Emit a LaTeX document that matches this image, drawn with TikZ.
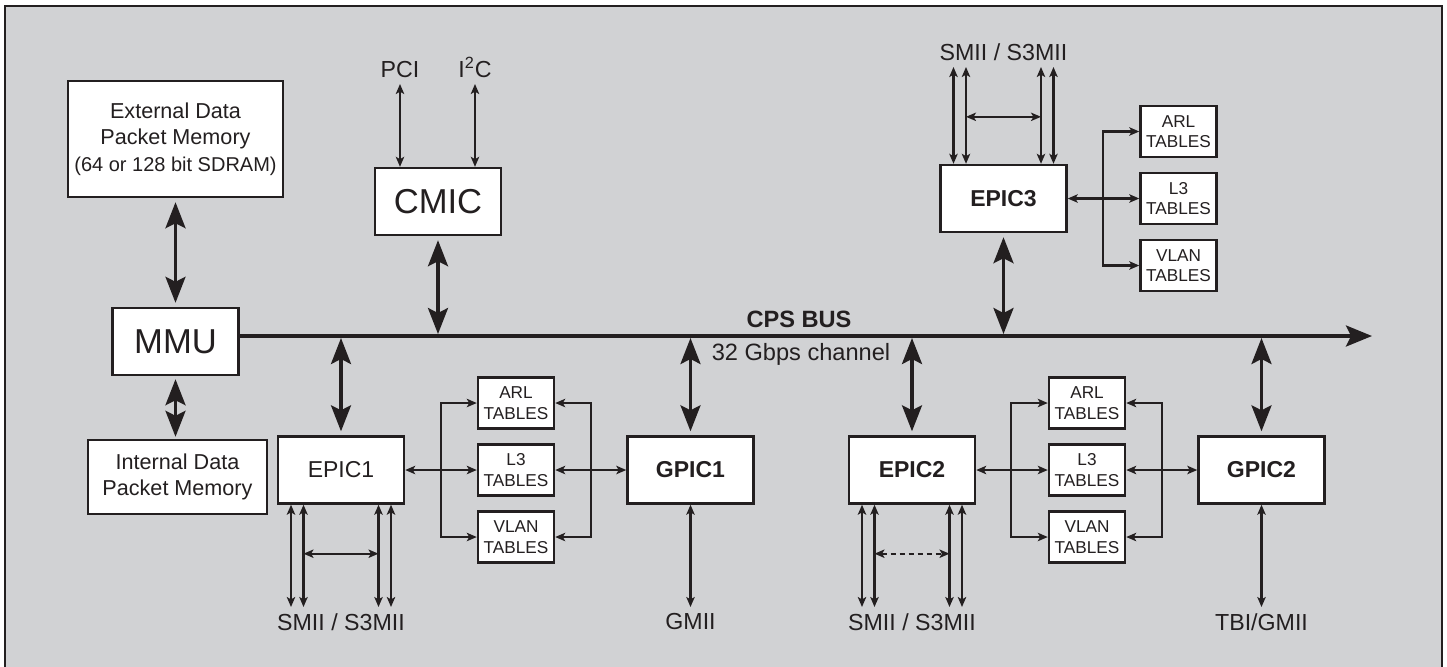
\documentclass[tikz,border=0pt]{standalone}
\usepackage{fontspec}
\setmainfont{Liberation Sans}
\usetikzlibrary{positioning,arrows.meta,calc}

\definecolor{panel}{HTML}{D1D2D4}
\definecolor{ink}{HTML}{231F20}

\tikzset{
  chip/.style={draw=ink,fill=white,line width=1.2pt,minimum width=63pt,minimum height=33.5pt,inner sep=0pt,font=\fontsize{11.5}{13}\selectfont},
  bigchip/.style={chip,font=\fontsize{17.3}{19}\selectfont},
  boldchip/.style={chip,font=\fontsize{11.5}{13}\selectfont\bfseries},
  tbl/.style={draw=ink,fill=white,line width=1.2pt,minimum width=38pt,minimum height=25.5pt,inner sep=0pt,align=center,font=\fontsize{8.6}{10.3}\selectfont},
  mem/.style={draw=ink,fill=white,line width=1.2pt,inner sep=0pt,align=center,font=\fontsize{10.8}{13.25}\selectfont},
  lbl/.style={inner sep=3pt,font=\fontsize{11.6}{13}\selectfont},
  big/.style={draw=ink,line width=1.6pt,{Stealth[length=13pt,width=10pt,inset=2.5pt]}-{Stealth[length=13pt,width=10pt,inset=2.5pt]},shorten <=2pt,shorten >=2pt},
  bus/.style={draw=ink,line width=1.6pt,-{Stealth[length=13pt,width=10.5pt,inset=2.5pt]}},
  lnk/.style={draw=ink,line width=1.1pt},
  cross/.style={draw=ink,line width=0.85pt}
}

\begin{document}
\begin{tikzpicture}[x=0.5pt,y=-0.5pt,node distance=33.5pt,on grid,
    >={Stealth[length=5pt,width=4.2pt,inset=1.2pt]},every node/.style={text=ink}]
  \useasboundingbox (0,0) rectangle (1447,666);
  \fill[panel] (5,6) rectangle (1442,670);
  \draw[ink,line width=1.2pt] (5,672) -- (5,6) -- (1442,6) -- (1442,672);

  % memories, MMU and CMIC
  \node[mem,minimum width=107.5pt,minimum height=58pt] (extmem) at (175.5,139) {External Data\\Packet Memory\\{\fontsize{10}{13.25}\selectfont(64 or 128 bit SDRAM)}};
  \node[bigchip] (mmu) at (175.5,341.5) {MMU};
  \node[mem,minimum width=89.5pt,minimum height=37pt] (intmem) at (177.5,477) {Internal Data\\Packet Memory};
  \node[bigchip] (cmic) at (438,201.5) {CMIC};
  \node[lbl,anchor=south] (pci) at (400,84) {PCI};
  \node[lbl,anchor=south] (iic) at (475,84) {I\textsuperscript{2}C};

  % CPS bus
  \coordinate (busend) at (1372,336);
  \draw[bus] (mmu.east |- busend) -- (busend);
  \node[lbl,font=\fontsize{11.8}{13}\selectfont\bfseries] (cpsbus) at (799,319) {CPS BUS};
  \node[lbl,font=\fontsize{11.8}{13}\selectfont] (chan) at (801,354) {32 Gbps channel};

  % port controllers
  \node[chip] (epic1) at (341,470) {EPIC1};
  \node[boldchip] (gpic1) at (690.5,470) {GPIC1};
  \node[boldchip] (epic2) at (912,470) {EPIC2};
  \node[boldchip] (gpic2) at (1261.5,470) {GPIC2};
  \node[boldchip] (epic3) at (1003.5,198.5) {EPIC3};

  % tables
  \node[tbl] (l3a) at (516,470) {L3\\TABLES};
  \node[tbl] (arla) [above=of l3a] {ARL\\TABLES};
  \node[tbl] (vlana) [below=of l3a] {VLAN\\TABLES};
  \node[tbl] (l3b) at (1087,470) {L3\\TABLES};
  \node[tbl] (arlb) [above=of l3b] {ARL\\TABLES};
  \node[tbl] (vlanb) [below=of l3b] {VLAN\\TABLES};
  \node[tbl] (l3c) at (1178.5,198.5) {L3\\TABLES};
  \node[tbl] (arlc) [above=of l3c] {ARL\\TABLES};
  \node[tbl] (vlanc) [below=of l3c] {VLAN\\TABLES};

  % outside interfaces
  \node[lbl,anchor=north] (smii1) at (341,607) {SMII / S3MII};
  \node[lbl,anchor=north] (gmii) at (690.5,607) {GMII};
  \node[lbl,anchor=north] (smii2) at (912,607) {SMII / S3MII};
  \node[lbl,anchor=north] (tbi) at (1261.5,607) {TBI/GMII};
  \node[lbl,anchor=south] (smii3) at (1003.5,67) {SMII / S3MII};

  % wide links
  \draw[big] (extmem.south) -- (mmu.north);
  \draw[big,shorten <=1.5pt,shorten >=1pt] (mmu.south) -- (mmu.south |- intmem.north);
  \draw[big,shorten >=1pt] (cmic.south) -- (cmic.south |- busend);
  \draw[big,shorten >=1pt] (epic3.south) -- (epic3.south |- busend);
  \foreach \chip in {epic1,gpic1,epic2,gpic2}
    \draw[big,shorten <=1pt] (\chip.north |- busend) -- (\chip.north);

  % narrow links
  \draw[lnk,<->] (pci.south) -- (pci.south |- cmic.north);
  \draw[lnk,<->] (iic.south) -- (iic.south |- cmic.north);
  \draw[lnk,<->] (gpic1) -- (gmii);
  \draw[lnk,<->] (gpic2) -- (tbi);

  \coordinate (forka) at (441,470);
  \coordinate (joina) at (591,470);
  \coordinate (forkb) at (1011,470);
  \coordinate (joinb) at (1162,470);
  \coordinate (forkc) at (1103,198.5);
  \draw[lnk,<->] (epic1) -- (l3a);
  \draw[lnk,<->] (l3a) -- (gpic1);
  \draw[lnk,<->] (epic2) -- (l3b);
  \draw[lnk,<->] (l3b) -- (gpic2);
  \draw[lnk,<->] (epic3) -- (l3c);
  \foreach \f/\t in {forka/arla,forka/vlana,joina/arla,joina/vlana,
                      forkb/arlb,forkb/vlanb,joinb/arlb,joinb/vlanb,
                      forkc/arlc,forkc/vlanc}
    \draw[lnk,->] (\f) |- (\t);

  % serial port bundles
  \foreach \dx in {-50,-37.5,37.5,50} {
    \draw[lnk,<->] ($(epic1.south)+(\dx,0)$) -- ($(smii1.north)+(\dx,0)$);
    \draw[lnk,<->] ($(epic2.south)+(\dx,0)$) -- ($(smii2.north)+(\dx,0)$);
    \draw[lnk,<->] ($(epic3.north)+(\dx,0)$) -- ($(smii3.south)+(\dx,0)$);
  }
  \draw[cross,<->] ($(epic1.south)+(-37.5,49)$) -- ($(epic1.south)+(37.5,49)$);
  \draw[cross,<->,dash pattern=on 2.5pt off 2pt] ($(epic2.south)+(-37.5,49)$) -- ($(epic2.south)+(37.5,49)$);
  \draw[cross,<->] ($(epic3.north)+(-37.5,-47)$) -- ($(epic3.north)+(37.5,-47)$);
\end{tikzpicture}
\end{document}
